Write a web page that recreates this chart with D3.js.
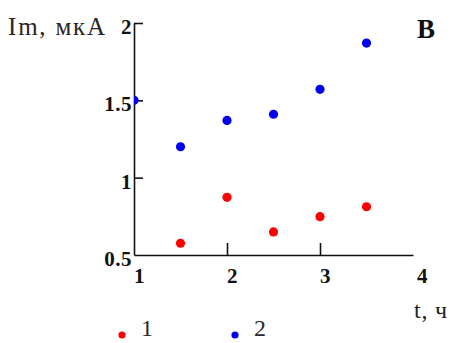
<!DOCTYPE html>
<html lang="en">
<head>
    <meta charset="UTF-8">
    <title>Im vs t</title>
    <script src="https://cdn.jsdelivr.net/npm/d3@7"></script>
    <style>
        body { margin: 0; background: #fff; }
    </style>
</head>
<body>
<script>
    // data
    var tValues = [1, 1.5, 2, 2.5, 3, 3.5];
    var series1 = [null, 0.576, 0.873, 0.649, 0.748, 0.812];
    var series2 = [1.5, 1.20, 1.37, 1.41, 1.571, 1.87];
    var xTicks = [1, 2, 3, 4];
    var yTicks = [0.5, 1, 1.5, 2];
    var seriesNames = ["1", "2"];
    var colors = ["#ff0000", "#0000ee"];

    var width = 461, height = 343;
    var serif = "'Times New Roman'";

    var svg = d3.select("body").append("svg")
        .attr("width", width)
        .attr("height", height);

    var x = d3.scaleLinear().domain([1, 4]).range([134, 413]);
    var y = d3.scaleLinear().domain([0.5, 2]).range([255, 23]);

    // clip so points sitting on the y axis are cut
    svg.append("clipPath").attr("id", "plot")
        .append("rect")
        .attr("x", x(1)).attr("y", 0)
        .attr("width", x(4) - x(1) + 20).attr("height", y(0.5) + 5);

    // axes: plain lines with inward ticks, labels drawn separately
    var xAxis = d3.axisTop(x)
        .tickValues([2, 3])
        .tickSizeInner(12)
        .tickSizeOuter(0)
        .tickFormat("");
    svg.append("g")
        .attr("transform", "translate(0," + y(0.5) + ")")
        .call(xAxis);

    var yAxis = d3.axisRight(y)
        .tickValues([1, 1.5, 2])
        .tickSizeInner(9)
        .tickSizeOuter(0)
        .tickFormat("");
    svg.append("g")
        .attr("transform", "translate(" + x(1) + ",0)")
        .call(yAxis);

    svg.selectAll(".domain, .tick line")
        .attr("stroke", "#111")
        .attr("stroke-width", 1.6);

    // tick labels
    svg.selectAll(".xlab")
        .data(xTicks)
        .enter()
        .append("text")
        .attr("x", function (d) { return x(d) + (d === 4 ? 4 : 0); })
        .attr("y", y(0.5) + 28)
        .style("font-family", serif)
        .style("font-size", "21px")
        .style("font-weight", "bold")
        .attr("fill", "#111")
        .text(function (d) { return d; });

    svg.selectAll(".ylab")
        .data(yTicks)
        .enter()
        .append("text")
        .attr("x", x(1) - 2)
        .attr("y", function (d) { return y(d) + 11; })
        .attr("text-anchor", "end")
        .style("font-family", serif)
        .style("font-size", "21px")
        .style("font-weight", "bold")
        .attr("letter-spacing", 0.5)
        .attr("fill", "#111")
        .text(function (d) { return d; });

    // points
    var plot = svg.append("g").attr("clip-path", "url(#plot)");
    [series1, series2].forEach(function (s, k) {
        plot.selectAll(".p" + k)
            .data(tValues.map(function (t, i) { return {t: t, v: s[i]}; })
                .filter(function (d) { return d.v !== null; }))
            .enter()
            .append("circle")
            .attr("cx", function (d) { return x(d.t); })
            .attr("cy", function (d) { return y(d.v); })
            .attr("r", 4.6)
            .attr("fill", colors[k]);
    });

    // titles
    svg.append("text")
        .attr("x", 8).attr("y", 35)
        .style("font-family", serif)
        .style("font-size", "25px")
        .attr("letter-spacing", 1.8)
        .attr("fill", "#2a2420")
        .text("Im, мкА");

    svg.append("text")
        .attr("x", 417).attr("y", 38)
        .style("font-family", serif)
        .style("font-size", "27px")
        .style("font-weight", "bold")
        .attr("fill", "#111")
        .text("В");

    svg.append("text")
        .attr("x", 414).attr("y", 318)
        .style("font-family", serif)
        .style("font-size", "24px")
        .attr("letter-spacing", 0.8)
        .attr("fill", "#222")
        .text("t, ч");

    // legend
    var legendX = [122, 235];
    seriesNames.forEach(function (name, k) {
        svg.append("circle")
            .attr("cx", legendX[k]).attr("cy", 335)
            .attr("r", 3.6)
            .attr("fill", colors[k]);
        svg.append("text")
            .attr("x", legendX[k] + 19).attr("y", 336)
            .style("font-family", serif)
            .style("font-size", "24px")
            .attr("fill", "#2a2a2a")
            .text(name);
    });
</script>
</body>
</html>
